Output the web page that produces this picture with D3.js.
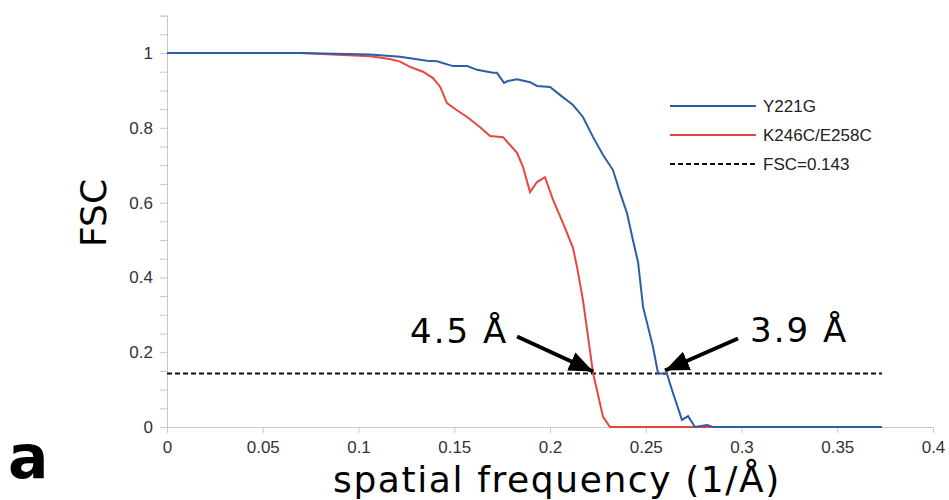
<!DOCTYPE html>
<html>
<meta charset="utf-8">
<head>
<script src="https://d3js.org/d3.v7.min.js"></script>
<style>
  body { margin: 0; background: #fff; }
  .tick text { font-family: "Liberation Sans", Arial, sans-serif; font-size: 17px; fill: #333; }
</style>
</head>
<body>
<div id="chart"></div>
<script>
// FSC curves
var blueX = [0, 0.0695, 0.106, 0.1217, 0.1358, 0.141, 0.1493, 0.1567, 0.1619, 0.1702, 0.1723, 0.176, 0.178, 0.1828, 0.1896, 0.1932, 0.2, 0.2052, 0.212, 0.2172, 0.2225, 0.2277, 0.2329, 0.2366, 0.2402, 0.2433, 0.246, 0.2486, 0.2538, 0.2564, 0.2611, 0.2637, 0.2689, 0.2721, 0.2757, 0.282, 0.2851, 0.3734];
var blueY = [1, 1, 0.996, 0.990, 0.979, 0.978, 0.965, 0.965, 0.955, 0.947, 0.947, 0.920, 0.925, 0.930, 0.922, 0.912, 0.909, 0.888, 0.861, 0.829, 0.775, 0.727, 0.687, 0.626, 0.572, 0.500, 0.440, 0.321, 0.214, 0.144, 0.142, 0.099, 0.019, 0.029, 0.0, 0.005, 0.0, 0.0];
var redX = [0, 0.0695, 0.106, 0.1164, 0.1217, 0.1269, 0.1337, 0.1389, 0.1426, 0.1462, 0.1514, 0.1567, 0.1634, 0.1687, 0.1755, 0.1828, 0.1859, 0.1896, 0.1932, 0.1974, 0.2016, 0.2068, 0.212, 0.2141, 0.2172, 0.2225, 0.2277, 0.2313, 0.3734];
var redY = [1, 1, 0.991, 0.984, 0.977, 0.963, 0.950, 0.933, 0.910, 0.866, 0.847, 0.829, 0.802, 0.778, 0.775, 0.733, 0.695, 0.628, 0.655, 0.668, 0.607, 0.545, 0.479, 0.428, 0.340, 0.144, 0.027, 0.0, 0.0];

var threshold = 0.143;
var xTicks = [0, 0.05, 0.1, 0.15, 0.2, 0.25, 0.3, 0.35, 0.4];
var yLabelTicks = [0, 0.2, 0.4, 0.6, 0.8, 1];
var yMinorTicks = d3.range(0, 1.1001, 0.05);
var seriesNames = ["Y221G", "K246C/E258C", "FSC=0.143"];
var seriesColors = ["#2d5ea3", "#e8453e", "#111"];
// resolution callouts: [label, crossing x]
var callouts = [["4.5 Å", 0.2225], ["3.9 Å", 0.2564]];

var W = 949, H = 500;
var svg = d3.select("#chart").append("svg")
    .attr("width", W).attr("height", H);

var x = d3.scaleLinear().domain([0, 0.4]).range([167, 933]);
var y = d3.scaleLinear().domain([0, 1.1]).range([427, 15.6]);

// y axis: minor ticks, then labels
svg.append("g")
    .attr("transform", "translate(" + x(0) + ",0)")
    .call(d3.axisLeft(y).tickValues(yMinorTicks).tickSize(7).tickFormat(""))
    .call(function(g) {
        g.selectAll("line, path").attr("stroke", "#c8c8c8");
    });
svg.append("g")
    .attr("transform", "translate(" + x(0) + ",0)")
    .call(d3.axisLeft(y).tickValues(yLabelTicks).tickSize(0).tickPadding(14).tickFormat(d3.format("~g")))
    .call(function(g) { g.select(".domain").remove(); });

// x axis
svg.append("g")
    .attr("transform", "translate(0," + y(0) + ")")
    .call(d3.axisBottom(x).tickValues(xTicks).tickSize(6).tickPadding(8).tickFormat(d3.format("~g")))
    .call(function(g) {
        g.selectAll("line, path").attr("stroke", "#c8c8c8");
    });

var line = d3.line()
    .x(function(d) { return x(d[0]); })
    .y(function(d) { return y(d[1]); });

// threshold line
svg.append("path")
    .datum([[0, threshold], [d3.max(blueX), threshold]])
    .attr("d", line)
    .attr("stroke", "#111").attr("stroke-width", 2)
    .attr("stroke-dasharray", "5,3").attr("fill", "none");

svg.append("path")
    .datum(d3.zip(redX, redY))
    .attr("d", line)
    .attr("stroke", seriesColors[1]).attr("stroke-width", 2).attr("fill", "none");

svg.append("path")
    .datum(d3.zip(blueX, blueY))
    .attr("d", line)
    .attr("stroke", seriesColors[0]).attr("stroke-width", 2).attr("fill", "none");

// legend
var legend = svg.selectAll(".legend")
    .data(seriesNames)
    .enter().append("g")
    .attr("class", "legend")
    .attr("transform", function(d, i) { return "translate(670," + (106 + i * 29) + ")"; });
legend.append("line")
    .attr("x1", 0).attr("x2", 86)
    .attr("stroke", function(d, i) { return seriesColors[i]; })
    .attr("stroke-width", 2)
    .attr("stroke-dasharray", function(d, i) { return i == 2 ? "5,3" : null; });
legend.append("text")
    .attr("x", 93).attr("y", 6)
    .style("font-family", "Liberation Sans, Arial, sans-serif")
    .style("font-size", "17px").style("fill", "#222")
    .text(function(d) { return d; });

// arrows
svg.append("defs").append("marker")
    .attr("id", "head")
    .attr("markerUnits", "userSpaceOnUse")
    .attr("viewBox", "0 0 24 20")
    .attr("refX", 24).attr("refY", 10)
    .attr("markerWidth", 24).attr("markerHeight", 20)
    .attr("orient", "auto")
    .append("path").attr("d", "M0,0 L24,10 L0,20 Z").attr("fill", "#000");

// tail offset, tip offset, text offset (pixels from the crossing point)
var tails = [[-76, -35], [80, -33]];
var tips = [[0, 0], [7, -1]];
var textPos = [[-183, -29], [92, -30]];
callouts.forEach(function(c, i) {
    var tx = x(c[1]), ty = y(threshold) - 2;
    svg.append("line")
        .attr("x1", tx + tails[i][0]).attr("y1", ty + tails[i][1])
        .attr("x2", tx + tips[i][0]).attr("y2", ty + tips[i][1])
        .attr("stroke", "#000").attr("stroke-width", 4)
        .attr("marker-end", "url(#head)");
    svg.append("text")
        .attr("x", tx + textPos[i][0]).attr("y", ty + textPos[i][1])
        .style("font-family", "DejaVu Sans, sans-serif")
        .style("font-size", "34px").style("letter-spacing", "2px")
        .style("fill", "#000")
        .text(c[0]);
});

// axis titles
svg.append("text")
    .attr("transform", "translate(106,213) rotate(-90)")
    .attr("text-anchor", "middle")
    .style("font-family", "DejaVu Sans, sans-serif")
    .style("font-size", "36px")
    .text("FSC");
svg.append("text")
    .attr("x", 557).attr("y", 492)
    .attr("text-anchor", "middle")
    .style("font-family", "DejaVu Sans, sans-serif")
    .style("font-size", "36px").style("letter-spacing", "1.6px")
    .text("spatial frequency (1/Å)");

// panel letter
svg.append("text")
    .attr("x", 8).attr("y", 478)
    .style("font-family", "DejaVu Sans, sans-serif")
    .style("font-weight", "bold")
    .style("font-size", "60px")
    .text("a");
</script>
</body>
</html>
